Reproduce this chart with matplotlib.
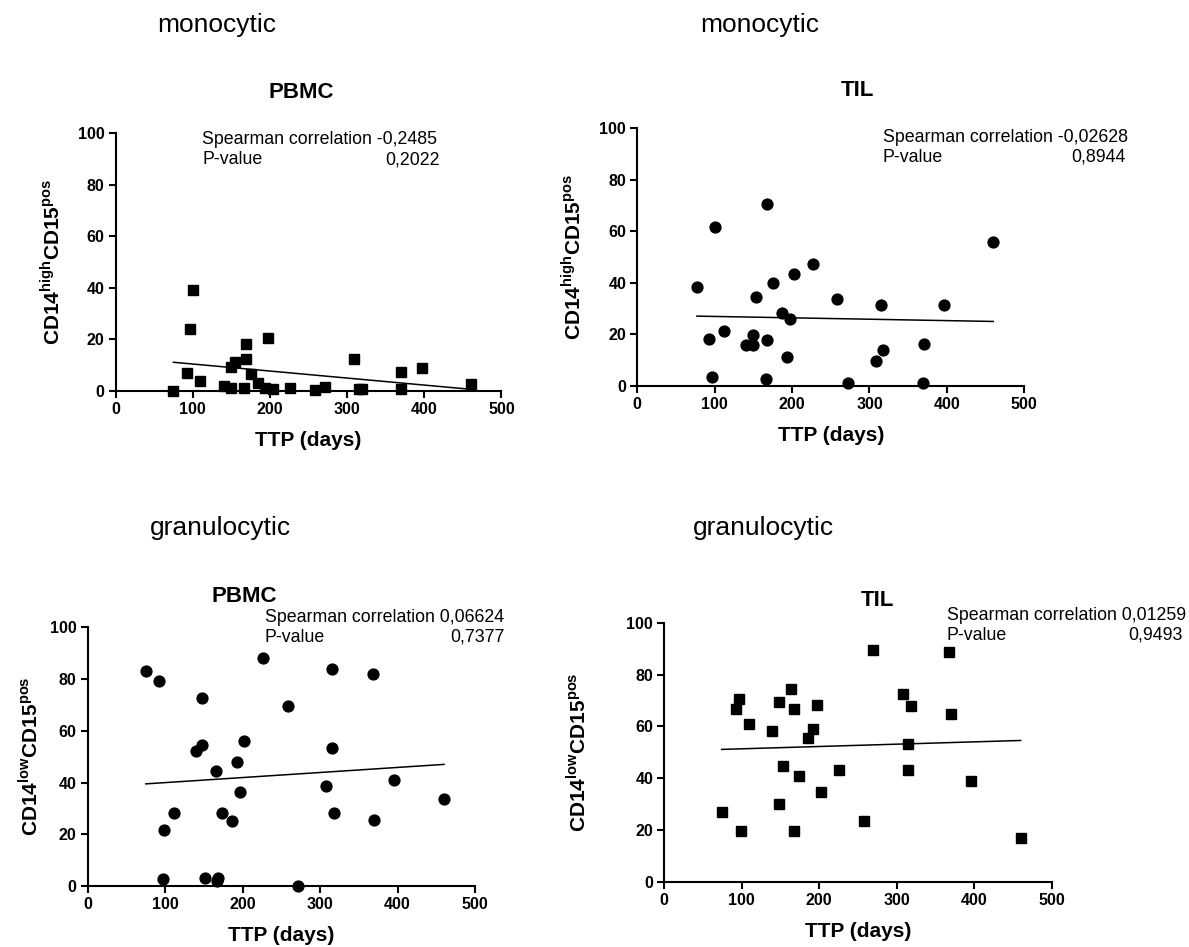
import numpy as np
import matplotlib
matplotlib.use("Agg")
import matplotlib.pyplot as plt

plt.rcParams['font.family'] = ['Liberation Sans', 'DejaVu Sans']
plt.rcParams['mathtext.fontset'] = 'custom'
plt.rcParams['mathtext.rm'] = 'Liberation Sans'
plt.rcParams['mathtext.bf'] = 'Liberation Sans:bold'

# monocytic, PBMC (squares)
ttp_mono_pbmc = [75, 100, 97, 93, 110, 140, 149, 149, 155, 166, 169, 169, 175, 185,
                 194, 197, 204, 226, 259, 271, 309, 315, 319, 370, 370, 397, 461]
val_mono_pbmc = [0.0, 39.1, 23.8, 6.7, 3.8, 1.9, 0.9, 9.3, 11.3, 0.9, 18.1, 12.3, 6.3, 2.8,
                 1.2, 20.3, 0.8, 1.2, 0.3, 1.3, 12.2, 0.5, 0.8, 7.1, 0.6, 8.7, 2.5]

# monocytic, TIL (circles)
ttp_mono_til = [77, 100, 93, 97, 112, 140, 149, 149, 153, 168, 168, 166, 175, 187,
                197, 193, 203, 227, 258, 272, 308, 315, 318, 370, 369, 396, 460]
val_mono_til = [38.5, 61.5, 18.3, 3.2, 21.2, 15.7, 15.7, 19.8, 34.3, 70.5, 17.7, 2.7, 39.9, 28.4,
                25.8, 11.1, 43.4, 47.3, 33.8, 1.2, 9.7, 31.3, 13.9, 16.2, 1.2, 31.3, 56.0]

# granulocytic, PBMC (circles)
ttp_gran_pbmc = [75, 92, 99, 97, 111, 140, 148, 148, 152, 165, 168, 167, 174, 186,
                 193, 196, 202, 226, 258, 271, 307, 315, 315, 318, 368, 370, 396, 460]
val_gran_pbmc = [83.1, 79.1, 21.5, 2.7, 28.1, 52.1, 54.6, 72.6, 3.0, 44.6, 3.0, 2.1, 28.1, 25.0,
                 48.1, 36.5, 56.1, 88.1, 69.6, 0.0, 38.7, 83.8, 53.5, 28.1, 81.8, 25.5, 41.0, 33.5]

# granulocytic, TIL (squares)
ttp_gran_til = [74, 92, 96, 99, 109, 139, 148, 148, 153, 164, 167, 167, 174, 185,
                192, 197, 202, 226, 258, 270, 308, 318, 315, 315, 368, 370, 396, 460]
val_gran_til = [26.8, 66.8, 70.5, 19.4, 60.7, 58.3, 69.2, 29.9, 44.8, 74.3, 66.8, 19.4, 40.8, 55.3,
                58.8, 68.2, 34.7, 43.2, 23.4, 89.4, 72.3, 67.8, 53.2, 43.2, 88.8, 64.9, 38.7, 16.7]

spearman_r = ['-0,2485', '-0,02628', '0,06624', '0,01259']
p_values = ['0,2022', '0,8944', '0,7377', '0,9493']
groups = ['monocytic', 'monocytic', 'granulocytic', 'granulocytic']
tissues = ['PBMC', 'TIL', 'PBMC', 'TIL']
ylabels = [r'$\mathbf{CD14}^{\mathbf{high}}\mathbf{CD15}^{\mathbf{pos}}$',
           r'$\mathbf{CD14}^{\mathbf{high}}\mathbf{CD15}^{\mathbf{pos}}$',
           r'$\mathbf{CD14}^{\mathbf{low}}\mathbf{CD15}^{\mathbf{pos}}$',
           r'$\mathbf{CD14}^{\mathbf{low}}\mathbf{CD15}^{\mathbf{pos}}$']
markers = ['s', 'o', 'o', 's']
xs = [ttp_mono_pbmc, ttp_mono_til, ttp_gran_pbmc, ttp_gran_til]
ys = [val_mono_pbmc, val_mono_til, val_gran_pbmc, val_gran_til]

W, H = 1189, 947
fig = plt.figure(figsize=(W / 100, H / 100), dpi=100)

# pixel layout: axes box (left, right, top, bottom), ylabel right edge,
# group label (x, y), title centre, stats (left, p-value right, y)
boxes = [(115.5, 501.5, 133.3, 390.7), (637.3, 1024.3, 128.3, 385.7),
         (87.7, 475.0, 627.3, 886.0), (664.3, 1051.7, 622.7, 881.7)]
ylab_right = [63, 585, 41, 590]
group_pos = [(157, 25), (700, 25), (150, 528), (693, 528)]
title_pos = [(301, 93), (857, 90), (244, 596), (877, 600)]
stats_pos = [(202, 440, 140), (883, 1126, 137), (265, 505, 617), (947, 1183, 615)]


def fx(px):
    return px / W


def fy(py):
    return 1 - py / H


for i in range(4):
    l, r, t, b = boxes[i]
    ax = fig.add_axes([fx(l), fy(b), (r - l) / W, (b - t) / H])
    x = np.array(xs[i], dtype=float)
    y = np.array(ys[i], dtype=float)
    ax.plot(x, y, linestyle='none', marker=markers[i], markersize=7.8,
            color='black', clip_on=False, zorder=3)
    k, c = np.polyfit(x, y, 1)
    xl = np.array([x.min(), x.max()])
    ax.plot(xl, k * xl + c, color='black', linewidth=1.1, zorder=2)

    ax.set_xlim(0, 500)
    ax.set_ylim(0, 100)
    ax.set_xticks(range(0, 501, 100))
    ax.set_yticks(range(0, 101, 20))
    for s in ['top', 'right']:
        ax.spines[s].set_visible(False)
    for s in ['left', 'bottom']:
        ax.spines[s].set_linewidth(1.5)
    ax.tick_params(direction='out', length=5, width=1.5, labelsize=11.5, pad=3)
    for lab in ax.get_xticklabels() + ax.get_yticklabels():
        lab.set_fontweight('bold')

    ax.set_xlabel('TTP (days)', fontsize=15, fontweight='bold')
    ax.xaxis.set_label_coords(0.5, -(40 / (b - t)))
    ax.set_ylabel(ylabels[i], fontsize=15)
    ax.yaxis.set_label_coords((ylab_right[i] - l) / (r - l), 0.5)

    gx, gy = group_pos[i]
    fig.text(fx(gx), fy(gy), groups[i], fontsize=19, ha='left', va='center')
    tx, ty = title_pos[i]
    fig.text(fx(tx), fy(ty), tissues[i], fontsize=16, fontweight='bold',
             ha='center', va='center')
    sl, sr, sy = stats_pos[i]
    fig.text(fx(sl), fy(sy), 'Spearman correlation ' + spearman_r[i],
             fontsize=12.8, ha='left', va='center')
    fig.text(fx(sl), fy(sy + 20), 'P-value', fontsize=12.8, ha='left', va='center')
    fig.text(fx(sr), fy(sy + 20), p_values[i], fontsize=12.8, ha='right', va='center')

fig.savefig('out.png', dpi=100)
